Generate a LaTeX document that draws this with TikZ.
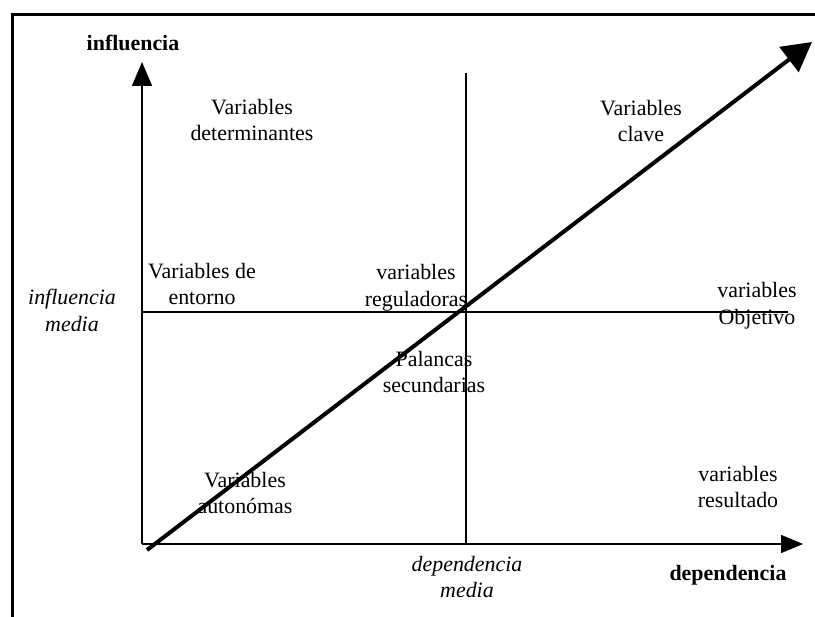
\documentclass[tikz,border=0pt]{standalone}
\usepackage{fontspec}
\setmainfont{Liberation Serif}
\usetikzlibrary{positioning,arrows.meta}

\begin{document}
\begin{tikzpicture}[x=1bp,y=1bp,
    lbl/.style={align=center, inner sep=0pt, font=\fontsize{22}{27}\selectfont},
    axis/.style={line width=1.5bp}]
    \useasboundingbox (0,0) rectangle (815,617);

    % Frame
    \draw [line width=3bp] (12,0) |- (815,602);

    % Axes
    \coordinate (O) at (142,73);
    \coordinate (ytop) at (142,555);
    \coordinate (xend) at (803,73);
    \draw [axis, -{Triangle[length=24bp,width=20bp]}] (O) -- (ytop);
    \draw [axis, -{Triangle[length=22bp,width=18bp]}] (O) -- (xend);

    % Middle lines
    \coordinate (mL) at (142,305); \coordinate (mR) at (788,305);
    \coordinate (mT) at (466,544); \coordinate (mB) at (466,73);
    \draw [line width=1.3bp] (mL) -- (mR);
    \draw [line width=1.3bp] (mB) -- (mT);

    % Diagonal
    \coordinate (dS) at (147,67);
    \coordinate (dE) at (812,575);
    \draw [line width=4bp, -{Triangle[length=29bp,width=31bp]}] (dS) -- (dE);

    % Axis labels
    \node [lbl, font=\fontsize{22}{27}\selectfont\bfseries] (infl) at (133,574) {influencia};
    \node [lbl, font=\fontsize{22}{27}\selectfont\bfseries] (dep) at (728,42) {dependencia};
    \node [lbl, font=\fontsize{22}{27}\selectfont\itshape] (inflmed) at (72,307) {influencia\\media};
    \node [lbl, font=\fontsize{22}{27}\selectfont\itshape] (depmed) at (467,40) {dependencia\\media};

    % Quadrants
    \node [lbl] (determ) at (252,497) {Variables\\determinantes};
    \node [lbl] (clave) at (641,496) {Variables\\clave};
    \node [lbl] (entorno) at (202,333) {Variables de\\entorno};
    \node [lbl] (regul) at (416,329) {variables\\reguladoras};
    \node [lbl] (objetivo) at (757,311) {variables\\Objetivo};
    \node [lbl] (palancas) at (434,245) {Palancas\\secundarias};
    \node [lbl] (autonom) at (245,124) {Variables\\autonómas};
    \node [lbl] (result) at (738,130) {variables\\resultado};
\end{tikzpicture}
\end{document}
